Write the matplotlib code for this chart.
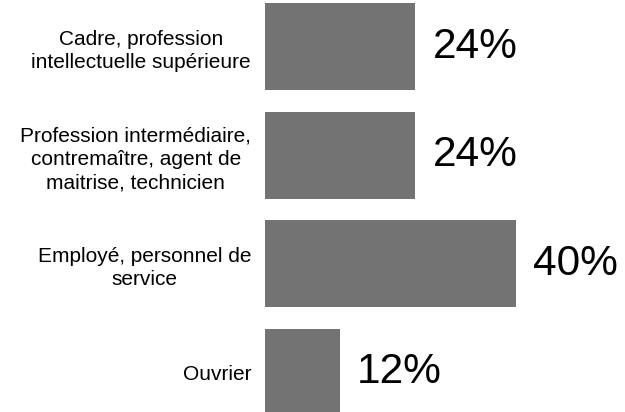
import matplotlib
matplotlib.use("Agg")
import matplotlib.pyplot as plt

categories = [
    "Cadre, profession\nintellectuelle supérieure",
    "Profession intermédiaire,\ncontremaître, agent de\nmaitrise, technicien",
    "Employé, personnel de\nservice",
    "Ouvrier",
]
values = [24, 24, 40, 12]
value_labels = ["24%", "24%", "40%", "12%"]

plt.rcParams['font.family'] = ['Liberation Sans', 'DejaVu Sans']

fig = plt.figure(figsize=(6.25, 4.12), dpi=100)
ax = fig.add_axes([265/625, -14.5/412, 313.5/625, 434/412])
ax.patch.set_alpha(0)

y = list(range(len(categories)))
ax.barh(y, values, height=0.8, color="#737373")
ax.set_ylim(3.5, -0.5)
ax.set_xlim(0, 50)

for yi, v, lab in zip(y, values, value_labels):
    ax.annotate(lab, xy=(v, yi), xytext=(17, 0), textcoords="offset pixels",
                ha="left", va="center", fontsize=30.5, color="black")

ax.set_yticks(y)
ax.set_yticklabels(categories, fontsize=15, multialignment="center", linespacing=1.3)
ax.tick_params(axis="y", length=0, pad=10)
ax.set_xticks([])
for s in ax.spines.values():
    s.set_visible(False)

fig.savefig("out.png", dpi=100)
